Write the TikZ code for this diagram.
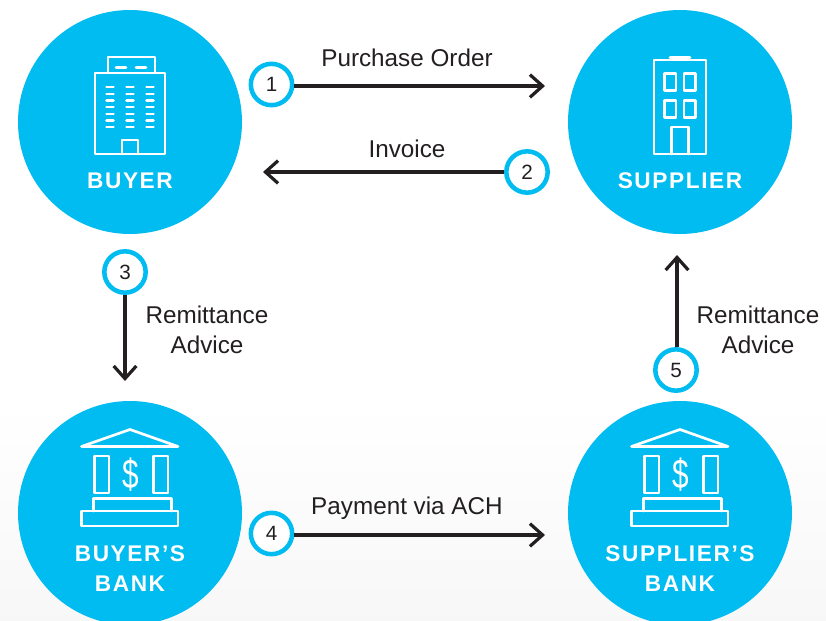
\documentclass[tikz,border=0pt]{standalone}
\usepackage{fontspec}
\setmainfont{Liberation Sans}
\newfontfamily\capsfont[LetterSpace=7]{Liberation Sans}
\usetikzlibrary{arrows.meta}
\definecolor{skyblue}{HTML}{00BCF0}
\definecolor{inkblack}{HTML}{231F20}
\begin{document}
\begin{tikzpicture}[x=0.75pt,y=-0.75pt,
    party/.style={circle,fill=skyblue,minimum size=168pt,inner sep=0pt},
    badge/.style={circle,draw=skyblue,line width=3.4pt,fill=white,minimum size=31pt,inner sep=0pt,font=\fontsize{15.5}{15.5}\selectfont,text=inkblack},
    flow/.style={line width=2.8pt,draw=inkblack,-{Straight Barb[length=9.5pt,width=17pt,line width=2.4pt]}},
    caption/.style={font=\fontsize{18.2}{22.5}\selectfont,text=inkblack,align=center,inner sep=0pt},
    title/.style={font=\capsfont\bfseries\fontsize{17}{22}\selectfont,text=white,align=center,inner sep=0pt},
    icon/.style={draw=white,line width=2pt,line join=round,line cap=round}]
  \useasboundingbox (0,0) rectangle (826,621);
  \clip (0,0) rectangle (826,621);
  \fill[white] (0,0) rectangle (826,621);
  \fill[top color=white,bottom color=black!3] (0,400) rectangle (826,621);

  \node[party] (buyer) at (130,122) {};
  \node[party] (supplier) at (680,122) {};
  \node[party] (buyerbank) at (130,513) {};
  \node[party] (supplierbank) at (680,513) {};

  \node[title] (buyertext) at (130,181) {BUYER};
  \node[title] (suppliertext) at (680,181) {SUPPLIER};
  \node[title] (buyerbanktext) at (130,568.5) {BUYER’S\\BANK};
  \node[title] (supplierbanktext) at (680,568.5) {SUPPLIER’S\\BANK};

  % buyer building
  \begin{scope}[icon]
    \draw (95,73) rectangle (165,154);
    \draw (108,73) -- (108,57) -- (155,57) -- (155,73);
    \draw (122,154) -- (122,140) -- (138,140) -- (138,154);
    \draw (116,67.5) -- (126,67.5) (136,67.5) -- (146,67.5);
    \foreach \wx in {106.5,126.5,146.5}
      \foreach \wy in {87,94,100.5,107,114,120.5,127}
        \draw (\wx,\wy) -- ++(7,0);
  \end{scope}

  % supplier building
  \begin{scope}[icon]
    \draw (654,60) rectangle (706,154);
    \draw (670,57.5) -- (690,57.5);
    \draw (671.5,154) -- (671.5,127) -- (688.5,127) -- (688.5,154);
    \foreach \wx in {664.5,684}
      \foreach \wy in {73.5,100.5}
        \draw (\wx,\wy) rectangle ++(11.5,17);
  \end{scope}

  % banks
  \foreach \bx/\bn in {0/a,550/b}{
    \begin{scope}[icon,shift={(\bx,0)}]
      \draw (81.5,446.5) -- (130,429.5) -- (178,446.5) -- cycle;
      \draw (94.5,456) rectangle (109,493);
      \draw (153.5,456) rectangle (168,493);
      \draw (93.5,511) -- (93.5,498.5) -- (171.5,498.5) -- (171.5,511);
      \draw (81.5,511) rectangle (178,526);
      \node[text=white,draw=none,inner sep=0pt,transform shape,xscale=0.72,font=\fontsize{31}{31}\selectfont] (dollar\bn) at (131,475) {\$};
    \end{scope}
  }

  \coordinate (end1) at (545,86);
  \coordinate (end2) at (263,172);
  \coordinate (end3) at (125,381);
  \coordinate (end4) at (545,535);
  \coordinate (end5) at (677,255);

  \node[badge] (step1) at (271.5,84.5) {1};
  \node[badge] (step2) at (527,172) {2};
  \node[badge] (step3) at (125,272) {3};
  \node[badge] (step4) at (271.5,533.5) {4};
  \node[badge] (step5) at (676,370) {5};

  \draw[flow] (step1.east |- end1) -- (end1);
  \draw[flow] (step2.west) -- (end2);
  \draw[flow] (step3.south) -- (end3);
  \draw[flow] (step4.east |- end4) -- (end4);
  \draw[flow] (step5.north -| end5) -- (end5);

  \node[caption,anchor=base] (order) at (407,66) {Purchase Order};
  \node[caption,anchor=base] (invoice) at (407,157) {Invoice};
  \node[caption] (adviceleft) at (207,330) {Remittance\\Advice};
  \node[caption] (adviceright) at (758,330) {Remittance\\Advice};
  \node[caption,anchor=base] (payment) at (407,514) {Payment via ACH};
\end{tikzpicture}
\end{document}
